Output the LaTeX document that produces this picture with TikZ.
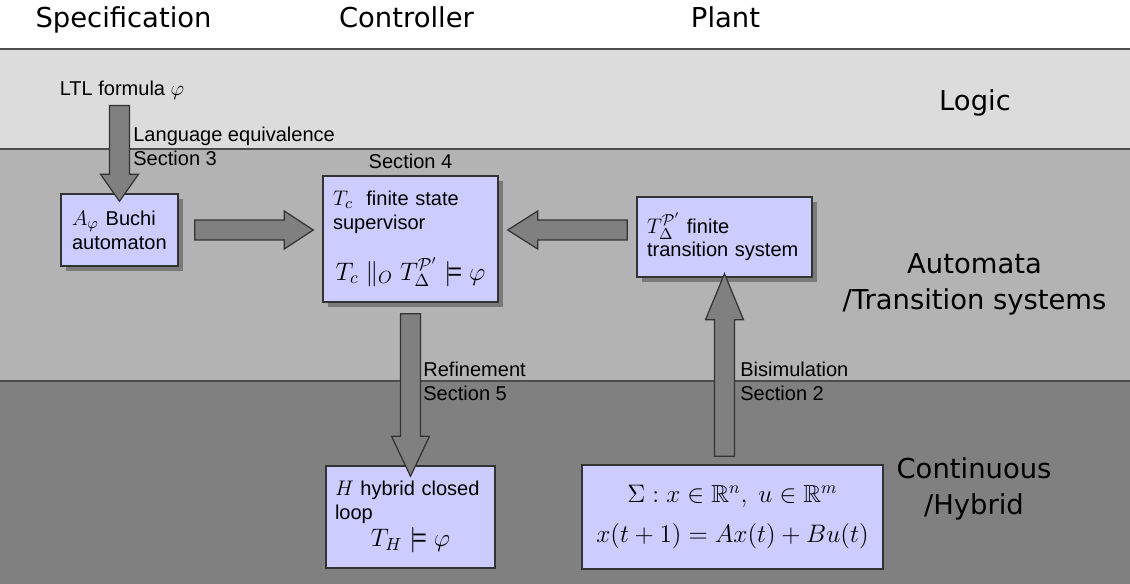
\documentclass[tikz,border=0pt]{standalone}
\usepackage{amsmath}
\usepackage{amssymb}
\usepackage{fontspec}
\setmainfont{Liberation Sans}
\newfontfamily\headfont{DejaVu Sans}
\usetikzlibrary{calc,positioning,shadows}
\definecolor{logicgray}{HTML}{DCDCDC}
\definecolor{autogray}{HTML}{B3B3B3}
\definecolor{contgray}{HTML}{808080}
\definecolor{boxblue}{HTML}{CCCCFF}
\definecolor{arrowgray}{HTML}{808080}
\definecolor{shadowgray}{HTML}{7A7A7A}
\newcommand{\mth}[1]{{\fontsize{13}{13}\selectfont$#1$}}
\newcommand{\bigmth}[1]{{\fontsize{14.5}{16}\selectfont$#1$}}

\begin{document}
\begin{tikzpicture}[
  x=0.02cm, y=-0.02cm,
  every node/.style={font=\fontsize{11.4}{13.5}\selectfont},
  heading/.style={font=\headfont\fontsize{15.6}{20.3}\selectfont, align=center},
  blockbox/.style={draw=black!80, line width=0.85pt, fill=boxblue,
                   inner xsep=0.2cm, inner ysep=0pt, align=left},
  shadowed/.style={drop shadow={shadow xshift=0.1cm, shadow yshift=-0.1cm,
                   fill=shadowgray, opacity=1}},
  sidenote/.style={align=left, anchor=north west, inner sep=0pt},
  bandline/.style={draw=black!70, line width=1.1pt},
  headlen/.store in=\headlen, headlen=0.6cm,
  blockarrow/.style={draw=black!80, line width=0.7pt, fill=arrowgray, headlen=#1,
    to path={let \p1=($(\tikztotarget)-(\tikztostart)$),
                 \n1={veclen(\x1,\y1)}, \n2={atan2(\y1,\x1)} in
      ([shift={(\tikztostart)},rotate=\n2]0pt,0.2cm)
      -- ([shift={(\tikztostart)},rotate=\n2]{\n1-\headlen},0.2cm)
      -- ([shift={(\tikztostart)},rotate=\n2]{\n1-\headlen},0.38cm)
      -- ([shift={(\tikztostart)},rotate=\n2]{\n1+0pt},0pt)
      -- ([shift={(\tikztostart)},rotate=\n2]{\n1-\headlen},-0.38cm)
      -- ([shift={(\tikztostart)},rotate=\n2]{\n1-\headlen},-0.2cm)
      -- ([shift={(\tikztostart)},rotate=\n2]0pt,-0.2cm) -- cycle}}
]
  \useasboundingbox (0,0) rectangle (1130,584);
  % bands
  \fill[white] (0,0) rectangle (1130,49);
  \fill[logicgray] (0,49) rectangle (1130,149);
  \fill[autogray] (0,149) rectangle (1130,381);
  \fill[contgray] (0,381) rectangle (1130,584);
  \foreach \y in {49,149,381}
    \draw[bandline] (0,\y) -- (1130,\y);

  % column and band titles
  \node[heading, anchor=base] (spec) at (123.5,28) {Specification};
  \node[heading, anchor=base] (ctrl) at (406.5,28) {Controller};
  \node[heading, anchor=base] (plant) at (725.5,28) {Plant};
  \node[heading] (logic) at (975,103) {Logic};
  \node[heading] (automata) at (974.5,284.5) {Automata\\/Transition systems};
  \node[heading] (hybrid) at (974,489) {Continuous\\/Hybrid};

  % boxes
  \node[blockbox, shadowed, inner xsep=0.22cm, text width=1.9cm,
        minimum height=1.44cm] (buchi) at (119.5,230)
        {\mth{A_\varphi} Buchi\\automaton};
  \node[blockbox, shadowed, text width=3.1cm, minimum height=2.52cm]
        (tc) at (410.5,239)
        {\mth{T_c}\ \ finite state\\supervisor\\[0.45cm]
         \makebox[3.1cm]{\bigmth{T_c \;\|_O\; T_\Delta^{\mathcal{P}'} \models \varphi}}};
  \node[blockbox, shadowed, text width=3.1cm, minimum height=1.6cm]
        (tdelta) at (724.5,237)
        {\mth{T_\Delta^{\mathcal{P}'}} finite\\transition system};
  \node[blockbox, inner xsep=0.18cm, text width=3.02cm, minimum height=2.04cm]
        (hbox) at (410.5,517)
        {\mth{H}\ hybrid closed\\loop\\[2pt]
         \makebox[3.02cm]{\bigmth{T_H \models \varphi}}};
  \node[blockbox, align=center, minimum width=6.02cm, minimum height=2.08cm,
        font=\fontsize{14}{17}\selectfont] (sigma) at (732.5,517)
        {$\Sigma : x \in \mathbb{R}^n,\ u \in \mathbb{R}^m$\\[6pt]
         $x(t+1) = Ax(t) + Bu(t)$};

  % texts
  \node (ltl) at (122,90) {LTL formula \mth{\varphi}};
  \node[above=0pt of tc] (sec4) {Section 4};
  \node[sidenote] (langeq) at (133,127) {Language equivalence\\Section 3};
  \node[sidenote] (refine) at (423,362) {Refinement\\Section 5};
  \node[sidenote] (bisim) at (740,362) {Bisimulation\\Section 2};

  % arrows
  \coordinate (tcin) at (buchi.east -| tc.west);
  \coordinate (tcout) at (buchi.east -| tc.east);
  \coordinate (tdin) at (buchi.east -| tdelta.west);
  \coordinate (sigmain) at (tdelta.south |- sigma.north);
  \draw[blockarrow=0.54cm] (ltl.south -| buchi.north) to ([yshift=-0.16cm]buchi.north);
  \draw[blockarrow=0.58cm] ([xshift=0.32cm]buchi.east) to ([xshift=-0.18cm]tcin);
  \draw[blockarrow=0.6cm] ([xshift=-0.18cm]tdin) to ([xshift=0.18cm]tcout);
  \draw[blockarrow=0.8cm] ([yshift=-0.22cm]tc.south) to ([yshift=-0.22cm]hbox.north);
  \draw[blockarrow=0.92cm] ([yshift=0.16cm]sigmain) to ([yshift=0.08cm]tdelta.south);
\end{tikzpicture}
\end{document}
